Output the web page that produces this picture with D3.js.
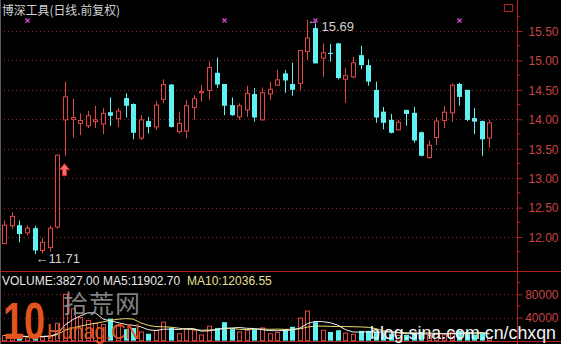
<!DOCTYPE html>
<html lang="zh">
<head>
<meta charset="UTF-8">
<title>博深工具 日线</title>
<script src="https://cdn.jsdelivr.net/npm/d3@7"></script>
<style>
    html, body { margin: 0; padding: 0; background: #000; }
    svg { display: block; }
    text { font-family: "Liberation Sans", Arial, sans-serif; }
    .cjk { font-family: "Noto Sans CJK SC", sans-serif; }
</style>
</head>
<body>
<svg width="561" height="344"></svg>
<script>
    // daily prices
    const opens  = [11.89,12.19,12.20,12.07,12.15,11.77,11.82,12.17,13.99,14.00,13.93,13.89,13.96,13.92,14.12,14.01,
                    14.36,14.26,13.68,13.97,13.87,14.34,14.59,13.79,13.80,14.20,14.45,14.49,14.79,14.60,14.24,14.04,
                    14.16,14.43,13.99,14.43,14.58,14.78,14.60,14.61,15.15,15.55,15.04,15.13,15.29,14.68,14.72,15.09,
                    14.92,14.50,14.13,13.99,13.82,14.16,14.11,13.78,13.35,13.69,13.98,14.11,14.60,14.50,14.02,13.97,13.68];
    const highs  = [12.28,12.42,12.28,12.20,12.19,11.98,12.19,13.39,14.64,14.35,14.10,14.14,14.23,14.19,14.37,14.19,
                    14.44,14.27,14.07,14.04,14.31,14.68,14.60,14.13,14.33,14.41,14.58,14.98,15.05,14.60,14.37,14.27,
                    14.57,14.53,14.54,14.64,14.84,14.84,14.96,15.17,15.69,15.63,15.29,15.28,15.30,14.87,15.06,15.25,
                    15.02,14.64,14.21,14.09,13.99,14.16,14.21,13.79,13.64,14.03,14.23,14.61,14.62,14.50,14.19,13.98,13.99];
    const lows   = [11.89,12.14,11.91,12.03,11.71,11.72,11.75,12.14,13.38,13.69,13.73,13.85,13.85,13.75,13.89,13.87,
                    14.03,13.66,13.65,13.76,13.82,14.27,13.86,13.76,13.68,13.99,14.30,14.33,14.53,14.07,14.06,13.99,
                    14.04,13.96,13.98,14.33,14.57,14.45,14.40,14.50,15.01,14.95,14.72,14.98,14.68,14.28,14.70,14.85,
                    14.57,13.94,13.83,13.76,13.81,13.89,13.60,13.37,13.33,13.56,13.85,13.96,14.23,13.97,13.75,13.38,13.52];
    const closes = [12.20,12.35,12.05,12.15,11.77,11.91,12.15,13.39,14.38,14.03,13.98,14.06,13.99,14.10,14.06,14.14,
                    14.23,13.77,13.99,13.87,14.24,14.59,13.87,13.93,14.23,14.35,14.47,14.88,14.59,14.23,14.07,14.23,
                    14.44,14.03,14.45,14.51,14.67,14.66,14.50,15.17,15.38,14.95,15.13,15.11,14.70,14.74,14.96,14.92,
                    14.64,14.03,13.94,13.77,13.95,14.09,13.64,13.38,13.56,13.97,14.12,14.58,14.38,13.99,13.96,13.66,13.94];
    const volumes = [9000,7000,8000,5000,10000,6000,9000,30000,80000,55000,40000,35000,30000,28000,38000,25000,
                     20000,22000,15000,12000,18000,32000,22000,12000,20000,18000,10000,25000,22000,32000,20000,15000,
                     18000,20000,22000,12000,14000,20000,24000,39000,51000,32000,18000,15000,18000,13000,11000,17000,
                     17000,16000,14000,12000,9000,10000,14000,15000,9000,12000,10000,14852,17000,15000,10500,13187,3827];

    const priceTicks = [12.0, 12.5, 13.0, 13.5, 14.0, 14.5, 15.0, 15.5];
    const volTicks = [40000, 80000];
    const title = "博深工具(日线.前复权)";
    const volLegend = ["VOLUME:3827.00", "MA5:11902.70", "MA10:12036.55"];
    const lowLabel = "←11.71", highLabel = "15.69";
    const markIdx = [3, 29, 41, 60];   // small magenta marks over these days
    const arrowIdx = 7;                // red up arrow after the breakout day

    const W = 561, H = 344;
    const axisX = 517;
    const RED = "#e04848", CYAN = "#5ef2f2", GRID = "#8a2424", AXIS = "#b02424", LBL = "#c84444";

    const svg = d3.select("svg");
    svg.append("rect").attr("width", W).attr("height", H).attr("fill", "#000");

    const x = d3.scaleLinear().domain([0, closes.length - 1]).range([4.3, 489.4]);
    const y = d3.scaleLinear().domain([12, 15.5]).range([237, 31]);
    const yv = d3.scaleLinear().domain([0, 80000]).range([340.7, 294.3]);
    const cx = i => Math.round(x(i)) + 0.5;

    // grid
    svg.append("g").selectAll("line").data(priceTicks).join("line")
        .attr("x1", 0).attr("x2", axisX)
        .attr("y1", d => Math.round(y(d)) + 0.5).attr("y2", d => Math.round(y(d)) + 0.5)
        .attr("stroke", GRID).attr("stroke-dasharray", "1,3");
    svg.append("g").selectAll("line").data(volTicks).join("line")
        .attr("x1", 0).attr("x2", axisX)
        .attr("y1", d => Math.round(yv(d)) + 0.5).attr("y2", d => Math.round(yv(d)) + 0.5)
        .attr("stroke", GRID).attr("stroke-dasharray", "1,3");

    // right price axis
    const yAxis = d3.axisRight(y).tickValues(priceTicks).tickSize(5).tickPadding(6)
        .tickFormat(d3.format(".2f"));
    const ga = svg.append("g").attr("transform", `translate(${axisX + 0.5},0)`).call(yAxis);
    const minorP = d3.range(11.75, 15.76, 0.5);
    ga.selectAll(".minor").data(minorP).join("line").attr("class", "minor")
        .attr("x1", 0).attr("x2", 3).attr("y1", d => y(d)).attr("y2", d => y(d));
    // volume axis
    const vAxis = d3.axisRight(yv).tickValues(volTicks).tickSize(5).tickPadding(4).tickFormat(d3.format("d"));
    const gv = svg.append("g").attr("transform", `translate(${axisX + 0.5},0)`).call(vAxis);
    gv.selectAll(".minor").data([20000, 60000, 100000]).join("line").attr("class", "minor")
        .attr("x1", 0).attr("x2", 3).attr("y1", d => yv(d)).attr("y2", d => yv(d));
    [ga, gv].forEach(g => {
        g.select(".domain").remove();
        g.selectAll("line").attr("stroke", AXIS);
        g.selectAll(".tick text").attr("fill", LBL).attr("font-size", 12).attr("text-anchor", "end")
            .attr("x", 558 - axisX).attr("dy", "0.36em");
    });

    // frame lines
    svg.append("line").attr("x1", axisX + 0.5).attr("x2", axisX + 0.5).attr("y1", 0).attr("y2", H).attr("stroke", AXIS);
    svg.append("line").attr("x1", 0).attr("x2", W).attr("y1", 271.5).attr("y2", 271.5).attr("stroke", AXIS);
    svg.append("line").attr("x1", 0).attr("x2", W).attr("y1", 341.5).attr("y2", 341.5).attr("stroke", AXIS);
    svg.append("line").attr("x1", 0.5).attr("x2", 0.5).attr("y1", 0).attr("y2", H).attr("stroke", "#5a5a5a");
    svg.append("rect").attr("x", 504.5).attr("y", 4.5).attr("width", 8).attr("height", 7)
        .attr("fill", "none").attr("stroke", AXIS);

    // candles
    const idx = d3.range(closes.length);
    const up = i => closes[i] >= opens[i];
    const gc = svg.append("g");
    gc.selectAll("line").data(idx).join("line")
        .attr("x1", cx).attr("x2", cx)
        .attr("y1", i => y(highs[i])).attr("y2", i => y(lows[i]))
        .attr("stroke", i => up(i) ? RED : CYAN);
    gc.selectAll("rect").data(idx).join("rect")
        .attr("x", i => up(i) ? cx(i) - 2 : cx(i) - 2.5)
        .attr("width", i => up(i) ? 4 : 5)
        .attr("y", i => y(Math.max(opens[i], closes[i])))
        .attr("height", i => Math.max(1, Math.abs(y(opens[i]) - y(closes[i]))))
        .attr("fill", i => up(i) ? "#000" : CYAN)
        .attr("stroke", i => up(i) ? RED : "none");

    // volume bars
    const gvb = svg.append("g");
    gvb.selectAll("rect").data(idx).join("rect")
        .attr("x", i => up(i) ? cx(i) - 2 : cx(i) - 2.5)
        .attr("width", i => up(i) ? 4 : 5)
        .attr("y", i => yv(volumes[i]))
        .attr("height", i => yv(0) - yv(volumes[i]))
        .attr("fill", i => up(i) ? "none" : CYAN)
        .attr("stroke", i => up(i) ? RED : "none");

    // volume moving averages
    const ma = n => idx.map(i => d3.mean(volumes.slice(Math.max(0, i - n + 1), i + 1)));
    const ln = d3.line().x((d, i) => x(i)).y(d => yv(d));
    svg.append("path").attr("d", ln(ma(10))).attr("fill", "none").attr("stroke", "#e8e070").attr("stroke-width", 1);
    svg.append("path").attr("d", ln(ma(5))).attr("fill", "none").attr("stroke", "#f0f0f0").attr("stroke-width", 1);

    // watermark
    svg.append("text").attr("x", 3).attr("y", 339).attr("font-size", 52).attr("font-weight", "bold")
        .attr("fill", "#e2541e").attr("textLength", 42).attr("lengthAdjust", "spacingAndGlyphs").text("10");
    svg.append("text").attr("class", "cjk").attr("x", 63).attr("y", 313).attr("font-size", 25)
        .attr("fill", "#9a9a9a").attr("fill-opacity", 0.85).attr("textLength", 77).text("拾荒网");
    svg.append("text").attr("x", 47).attr("y", 339).attr("font-size", 22)
        .attr("fill", "#e2541e").attr("textLength", 93).attr("lengthAdjust", "spacingAndGlyphs").text("Hunag.CN");
    svg.append("text").attr("x", 370).attr("y", 339).attr("font-size", 19)
        .attr("fill", "#f4f4f4").attr("textLength", 186).attr("lengthAdjust", "spacingAndGlyphs")
        .text("blog.sina.com.cn/chxqn");

    // title and volume legend
    svg.append("text").attr("class", "cjk").attr("x", 2).attr("y", 15).attr("font-size", 12.5)
        .attr("fill", "#cfcfcf").attr("textLength", 118).attr("lengthAdjust", "spacingAndGlyphs").text(title);
    const legX = [2, 103, 187], legC = ["#e8e8e8", "#e8e8e8", "#e8e090"];
    svg.append("g").selectAll("text").data(volLegend).join("text")
        .attr("x", (d, i) => legX[i]).attr("y", 285).attr("font-size", 12)
        .attr("fill", (d, i) => legC[i]).text(d => d);

    // high / low annotations
    const iHigh = d3.maxIndex(highs), iLow = d3.minIndex(lows);
    svg.append("text").attr("x", cx(iLow)).attr("y", y(lows[iLow]) + 9).attr("font-size", 13)
        .attr("fill", "#d0d0d0").text(lowLabel);
    svg.append("text").attr("x", cx(iHigh) + 14).attr("y", 31).attr("font-size", 13)
        .attr("fill", "#d0d0d0").text(highLabel);
    svg.append("text").attr("x", cx(iHigh)).attr("y", y(highs[iHigh]) + 4).attr("font-size", 11)
        .attr("fill", "#e0b0e0").text("←");

    // magenta marks
    svg.append("g").selectAll("path").data(markIdx).join("path")
        .attr("d", i => { const a = cx(i), b = 20.5; return `M${a-2},${b-2}L${a+2},${b+2}M${a+2},${b-2}L${a-2},${b+2}`; })
        .attr("stroke", "#d040d0").attr("stroke-width", 1.5);

    // red up arrow
    const ax = cx(arrowIdx) + 7, ay = y(lows[arrowIdx + 1]) + 8;
    svg.append("path")
        .attr("d", `M${ax},${ay} L${ax+5},${ay+6} L${ax+2},${ay+6} L${ax+2},${ay+12} L${ax-2},${ay+12} L${ax-2},${ay+6} L${ax-5},${ay+6} Z`)
        .attr("fill", "#f07070").attr("stroke", "#e02020").attr("stroke-width", 1);
</script>
</body>
</html>
